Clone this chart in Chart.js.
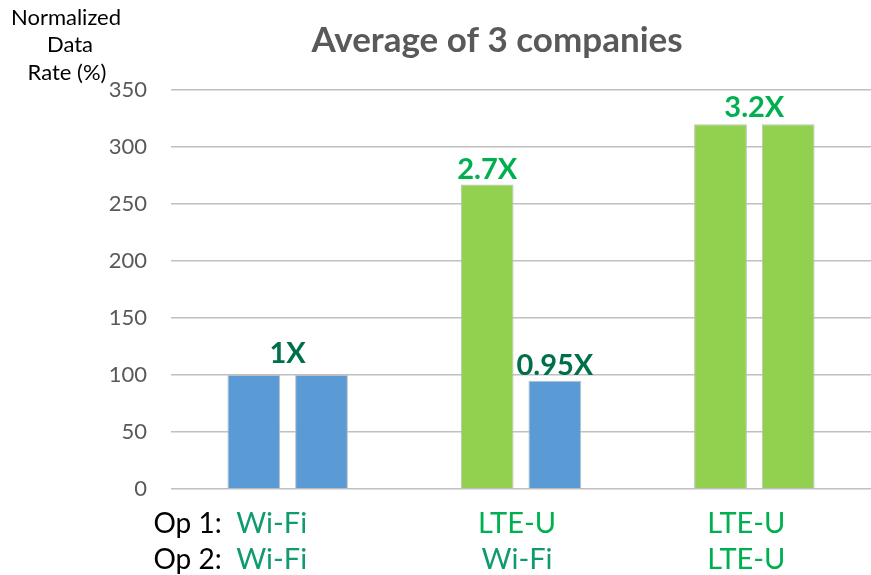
<!DOCTYPE html>
<html>
<head>
<meta charset="utf-8">
<script src="https://cdn.jsdelivr.net/npm/chart.js@4.4.1/dist/chart.umd.min.js"></script>
<style>
    html, body { margin: 0; padding: 0; background: #fff; }
    #wrap { width: 871px; height: 575px; position: relative; }
</style>
</head>
<body>
<div id="wrap"><canvas id="rateChart"></canvas></div>
<script>
// Chart data
const categories = ['Wi-Fi / Wi-Fi', 'LTE-U / Wi-Fi', 'LTE-U / LTE-U'];
const op1Tech = ['Wi-Fi', 'LTE-U', 'LTE-U'];
const op2Tech = ['Wi-Fi', 'Wi-Fi', 'LTE-U'];
const op1Rate = [100, 267, 320];
const op2Rate = [100, 95, 320];
const yTickMin = 0;
const yTickMax = 350;
const yTickStep = 50;
// gain labels: category index, bar index (-1 = over the pair)
const gainText = ['1X', '2.7X', '0.95X', '3.2X'];
const gainCategory = [0, 1, 1, 2];
const gainBar = [-1, 0, 1, -1];

const techColor = { 'Wi-Fi': '#5b9bd5', 'LTE-U': '#92d050' };
const techTextColor = { 'Wi-Fi': '#0f9b6f', 'LTE-U': '#00b050' };
const gainColor = { '1X': '#00704a', '2.7X': '#00b050', '0.95X': '#00704a', '3.2X': '#00b050' };
const labelNudge = [-16, -4, -8];
const FONT = 'Lato, "Open Sans", sans-serif';

const overlay = {
    id: 'overlay',
    afterDraw(chart) {
        const ctx = chart.ctx;
        const x = chart.scales.x;
        const m0 = chart.getDatasetMeta(0).data;
        const m1 = chart.getDatasetMeta(1).data;
        ctx.save();

        // title
        ctx.fillStyle = '#595959';
        ctx.font = 'bold 35px ' + FONT;
        ctx.textAlign = 'center';
        ctx.textBaseline = 'alphabetic';
        ctx.fillText('Average of 3 companies', 497, 52);

        // y axis title
        ctx.fillStyle = '#000';
        ctx.font = '22px ' + FONT;
        ctx.fillText('Normalized', 66, 25);
        ctx.fillText('Data', 70, 52);
        ctx.fillText('Rate (%)', 67, 80);

        // gain labels
        ctx.font = 'bold 29px ' + FONT;
        gainText.forEach((t, i) => {
            const c = gainCategory[i];
            let px, py;
            if (gainBar[i] < 0) {
                px = (m0[c].x + m1[c].x) / 2;
                py = Math.min(m0[c].y, m1[c].y) - (t === '1X' ? 12 : 7);
            } else {
                const bar = gainBar[i] === 0 ? m0[c] : m1[c];
                px = bar.x;
                py = bar.y - 6;
            }
            ctx.fillStyle = gainColor[t];
            ctx.fillText(t, px, py);
        });

        // category labels
        categories.forEach((c, i) => {
            const cx = x.getPixelForValue(i) + labelNudge[i];
            ctx.font = '29px ' + FONT;
            ctx.textAlign = 'center';
            ctx.fillStyle = techTextColor[op1Tech[i]];
            ctx.fillText(op1Tech[i], cx, 533);
            ctx.fillStyle = techTextColor[op2Tech[i]];
            ctx.fillText(op2Tech[i], cx, 569);
            if (i === 0) {
                ctx.font = '28px ' + FONT;
                ctx.textAlign = 'right';
                ctx.fillStyle = '#000';
                ctx.fillText('Op 1:', cx - 50, 533);
                ctx.fillText('Op 2:', cx - 50, 569);
            }
        });
        ctx.restore();
    }
};

document.addEventListener('DOMContentLoaded', function() {
    const ctx = document.getElementById('rateChart').getContext('2d');
    new Chart(ctx, {
        type: 'bar',
        data: {
            labels: categories,
            datasets: [{
                label: 'Op 1',
                data: op1Rate,
                backgroundColor: op1Tech.map(t => techColor[t]),
                borderColor: '#bfbfbf',
                borderWidth: 1
            }, {
                label: 'Op 2',
                data: op2Rate,
                backgroundColor: op2Tech.map(t => techColor[t]),
                borderColor: '#bfbfbf',
                borderWidth: 1
            }]
        },
        options: {
            responsive: true,
            maintainAspectRatio: false,
            animation: false,
            categoryPercentage: 0.58,
            barPercentage: 0.78,
            layout: {
                padding: { top: 90, left: 0, right: 0, bottom: 0 }
            },
            plugins: {
                legend: { display: false },
                tooltip: { enabled: false }
            },
            scales: {
                y: {
                    min: yTickMin,
                    max: yTickMax,
                    ticks: {
                        stepSize: yTickStep,
                        padding: 24,
                        color: '#595959',
                        font: { family: FONT, size: 22 }
                    },
                    grid: {
                        color: '#c0c0c0',
                        lineWidth: 1.5,
                        drawTicks: false
                    },
                    border: { display: false },
                    afterFit: function(scale) { scale.width = 171; }
                },
                x: {
                    ticks: { display: false },
                    grid: { display: false },
                    border: { display: false },
                    afterFit: function(scale) { scale.height = 86; }
                }
            }
        },
        plugins: [overlay]
    });
});
</script>
</body>
</html>
